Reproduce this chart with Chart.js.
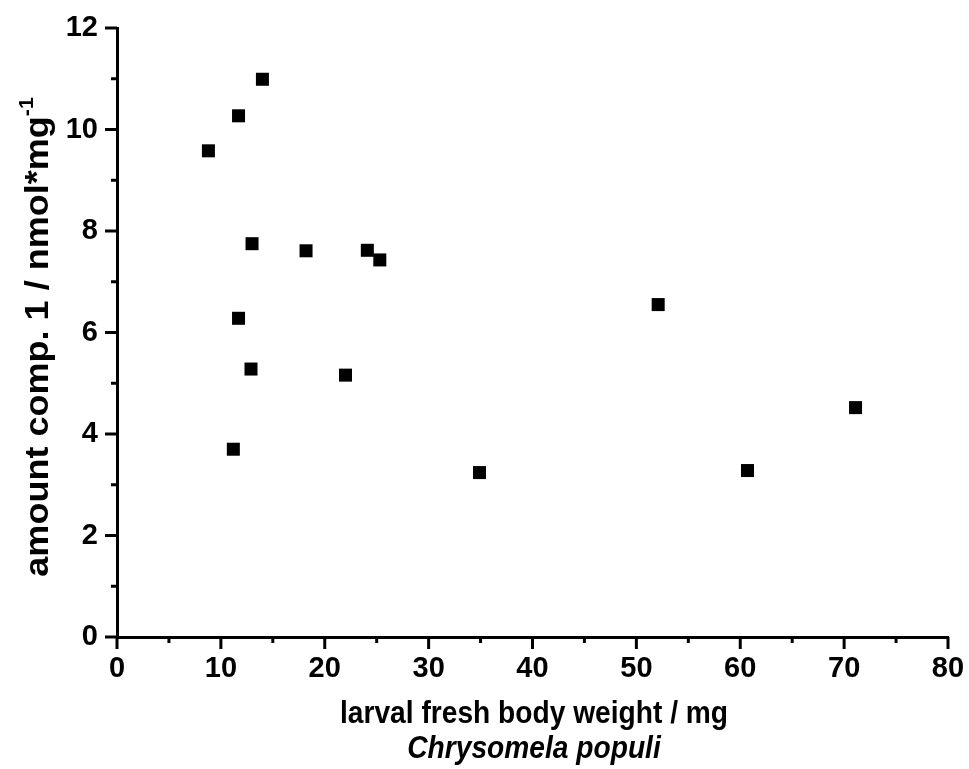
<!DOCTYPE html>
<html>
<head>
<meta charset="utf-8">
<script src="https://cdn.jsdelivr.net/npm/chart.js@4.4.1/dist/chart.umd.min.js"></script>
<style>
  html, body { margin: 0; padding: 0; background: #fff; }
  #wrap { width: 969px; height: 769px; }
</style>
</head>
<body>
<div id="wrap"><canvas id="scatter"></canvas></div>
<script>
// larval weight (mg) vs. amount of compound 1 (nmol/mg)
const bodyWeight = [8.8, 11.7, 14.0, 13.0, 18.2, 24.1, 25.3, 11.7, 12.9, 22.0, 11.2, 34.9, 52.1, 71.1, 60.7];
const amountComp1 = [9.58, 10.27, 10.99, 7.75, 7.61, 7.62, 7.43, 6.28, 5.28, 5.16, 3.70, 3.24, 6.55, 4.52, 3.28];
const xTicks = [0, 10, 20, 30, 40, 50, 60, 70, 80];
const yTicks = [0, 2, 4, 6, 8, 10, 12];

const FONT = 'Liberation Sans, Arial, Helvetica, sans-serif';

const points = bodyWeight.map((x, i) => ({ x: x, y: amountComp1[i] }));

// draws text horizontally scaled by sx, centred on (x, y) baseline
function scaledText(ctx, text, x, y, sx) {
    ctx.save();
    ctx.translate(x, y);
    ctx.scale(sx, 1);
    ctx.fillText(text, 0, 0);
    ctx.restore();
}

// keep the plot area fixed: labels may hang over its edges
function noScalePadding(s) {
    s.paddingTop = 0;
    s.paddingBottom = 0;
    s.paddingLeft = 0;
    s.paddingRight = 0;
}

// major + minor tick marks on the outside of both axes, and the axis titles
const axisDecor = {
    id: 'axisDecor',
    afterDraw(chart) {
        const ctx = chart.ctx;
        const area = chart.chartArea;
        const xs = chart.scales.x;
        const ys = chart.scales.y;
        ctx.save();
        ctx.strokeStyle = '#000';
        ctx.lineWidth = 3;
        ctx.lineCap = 'butt';
        for (let v = 0; v <= 80; v += 5) {
            const px = xs.getPixelForValue(v);
            const len = v % 10 === 0 ? 12 : 6;
            ctx.beginPath();
            ctx.moveTo(px, area.bottom);
            ctx.lineTo(px, area.bottom + len);
            ctx.stroke();
        }
        for (let v = 0; v <= 12; v += 1) {
            const py = ys.getPixelForValue(v);
            const len = v % 2 === 0 ? 12 : 6;
            ctx.beginPath();
            ctx.moveTo(area.left, py);
            ctx.lineTo(area.left - len, py);
            ctx.stroke();
        }

        ctx.fillStyle = '#000';
        ctx.textAlign = 'center';
        ctx.textBaseline = 'alphabetic';
        ctx.font = 'bold 32px ' + FONT;
        scaledText(ctx, 'larval fresh body weight / mg', 534, 723, 0.88);
        ctx.font = 'italic bold 32px ' + FONT;
        scaledText(ctx, 'Chrysomela populi', 534, 758, 0.88);

        // rotated y title with superscript -1
        const main = 'amount comp. 1 / nmol*mg';
        const sup = '-1';
        ctx.translate(48, 337);
        ctx.rotate(-Math.PI / 2);
        ctx.scale(1.06, 1);
        ctx.font = 'bold 34px ' + FONT;
        const wMain = ctx.measureText(main).width;
        ctx.font = 'bold 20px ' + FONT;
        const wSup = ctx.measureText(sup).width;
        const start = -(wMain + wSup) / 2;
        ctx.textAlign = 'left';
        ctx.font = 'bold 34px ' + FONT;
        ctx.fillText(main, start, 0);
        ctx.font = 'bold 20px ' + FONT;
        ctx.fillText(sup, start + wMain, -15);
        ctx.restore();
    }
};

new Chart(document.getElementById('scatter'), {
    type: 'scatter',
    data: {
        datasets: [{
            data: points,
            pointStyle: 'rect',
            pointRadius: 9.2,
            pointHoverRadius: 9.2,
            backgroundColor: '#000',
            borderColor: '#000',
            borderWidth: 0
        }]
    },
    options: {
        responsive: true,
        maintainAspectRatio: false,
        animation: false,
        events: [],
        layout: { padding: { top: 28, right: 21, left: 0, bottom: 82 } },
        plugins: { legend: { display: false }, tooltip: { enabled: false } },
        scales: {
            x: {
                type: 'linear',
                min: 0,
                max: 80,
                afterFit: (s) => { s.height = 50; noScalePadding(s); },
                afterBuildTicks: (s) => { s.ticks = xTicks.map(v => ({ value: v })); },
                border: { display: true, color: '#000', width: 3 },
                grid: { display: false, drawTicks: false },
                ticks: {
                    padding: 15,
                    color: '#000',
                    font: { family: FONT, size: 29, weight: 'bold' }
                }
            },
            y: {
                type: 'linear',
                min: 0,
                max: 12,
                afterFit: (s) => { s.width = 117; noScalePadding(s); },
                afterBuildTicks: (s) => { s.ticks = yTicks.map(v => ({ value: v })); },
                border: { display: true, color: '#000', width: 3 },
                grid: { display: false, drawTicks: false },
                ticks: {
                    padding: 19,
                    color: '#000',
                    font: { family: FONT, size: 29, weight: 'bold' }
                }
            }
        }
    },
    plugins: [axisDecor]
});
</script>
</body>
</html>
